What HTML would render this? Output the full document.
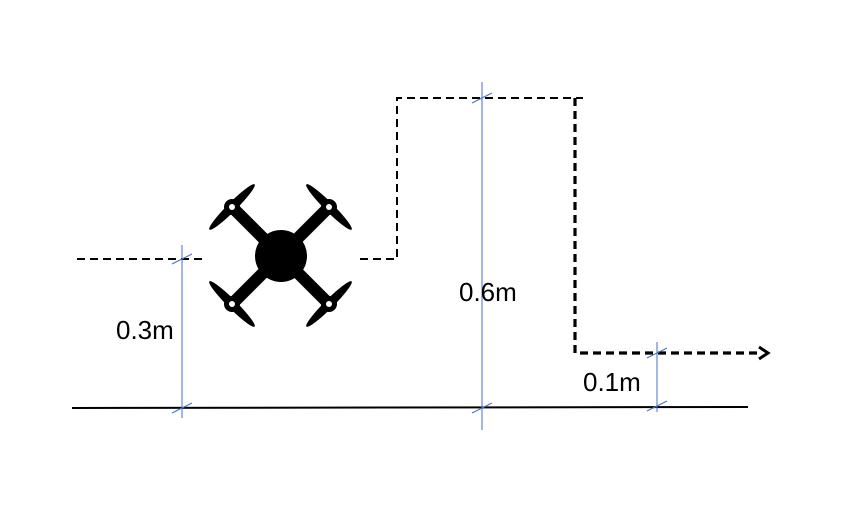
<!DOCTYPE html>
<html><head><meta charset="utf-8"><style>
html,body{margin:0;padding:0;background:#fff;}
svg{display:block}
text{font-family:"Liberation Sans",sans-serif;font-size:26px;fill:#000}
</style></head><body>
<svg width="841" height="514" viewBox="0 0 841 514">
<line x1="72" y1="408" x2="748" y2="407" stroke="#000" stroke-width="2"/>
<g fill="none" stroke="#000" stroke-dasharray="8,5">
<line x1="77" y1="259" x2="203" y2="259" stroke-width="2"/>
<polyline points="360,259 397,259 397,98 583,98" stroke-width="2"/>
<polyline points="575,98 575,353 762,353" stroke-width="3.2"/>
</g>
<polyline points="759,347 768,353 759,359" fill="none" stroke="#000" stroke-width="3"/>
<g stroke="#4472c4" stroke-width="1">
<line x1="182" y1="245" x2="182" y2="418"/>
<line x1="172" y1="264" x2="192" y2="254"/>
<line x1="172" y1="413" x2="192" y2="403"/>
<line x1="482" y1="82" x2="482" y2="430"/>
<line x1="472" y1="103" x2="492" y2="93"/>
<line x1="472" y1="413" x2="492" y2="403"/>
<line x1="657" y1="342" x2="657" y2="412"/>
<line x1="647" y1="358" x2="667" y2="348"/>
<line x1="647" y1="411" x2="667" y2="401"/>
</g>
<text x="116" y="339">0.3m</text>
<text x="459" y="301">0.6m</text>
<text x="583" y="391">0.1m</text>
<g fill="#000">
<line x1="232" y1="207" x2="329" y2="304" stroke="#000" stroke-width="12"/>
<line x1="329" y1="207" x2="232" y2="304" stroke="#000" stroke-width="12"/>
<circle cx="281" cy="256" r="26"/>
<g transform="translate(232,207) rotate(-45)"><ellipse cx="0" cy="0" rx="32" ry="4.5"/><circle r="8"/><circle r="3" fill="#fff"/></g>
<g transform="translate(329,207) rotate(45)"><ellipse cx="0" cy="0" rx="32" ry="4.5"/><circle r="8"/><circle r="3" fill="#fff"/></g>
<g transform="translate(232,304) rotate(45)"><ellipse cx="0" cy="0" rx="32" ry="4.5"/><circle r="8"/><circle r="3" fill="#fff"/></g>
<g transform="translate(329,304) rotate(-45)"><ellipse cx="0" cy="0" rx="32" ry="4.5"/><circle r="8"/><circle r="3" fill="#fff"/></g>
</g>
</svg>
</body></html>
